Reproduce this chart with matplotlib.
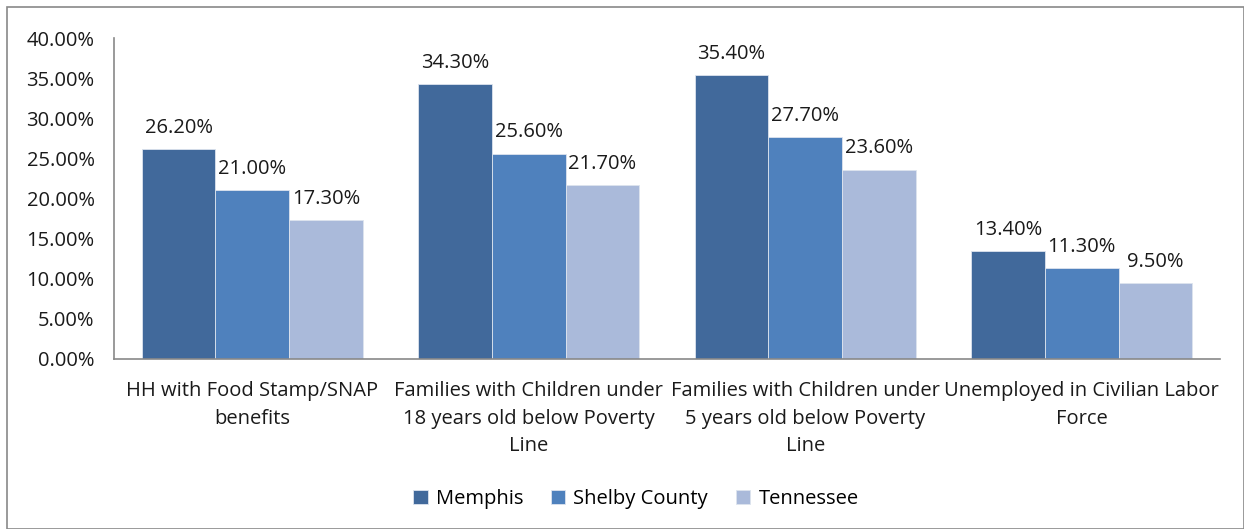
import numpy as np
import matplotlib
matplotlib.use('Agg')
import matplotlib.pyplot as plt
from matplotlib.patches import Rectangle

plt.rcParams['font.family'] = ['Open Sans', 'DejaVu Sans']

CATEGORIES = [
    'HH with Food Stamp/SNAP\nbenefits',
    'Families with Children under\n18 years old below Poverty\nLine',
    'Families with Children under\n5 years old below Poverty\nLine',
    'Unemployed in Civilian Labor\nForce',
]
SERIES = ['Memphis', 'Shelby County', 'Tennessee']
MEMPHIS = [26.2, 34.3, 35.4, 13.4]
SHELBY = [21.0, 25.6, 27.7, 11.3]
TENNESSEE = [17.3, 21.7, 23.6, 9.5]
Y_TICKS = [0, 5, 10, 15, 20, 25, 30, 35, 40]

COLORS = ['#41699B', '#4F81BD', '#AABADA']
FS = 14.5

fig = plt.figure(figsize=(12.44, 5.29), dpi=100)
fig.patch.set_facecolor('white')
# рамка вокруг всей диаграммы
fig.patches.append(Rectangle((7 / 1244, 0), 1 - 7 / 1244, 1 - 7 / 529,
                             transform=fig.transFigure, fill=False,
                             edgecolor='#898989', lw=1.2))

ax = fig.add_axes([114 / 1244, 1 - 359 / 529, (1220 - 114) / 1244, (359 - 38) / 529])

x = np.arange(len(CATEGORIES))
width = 0.8 / 3
for i, (vals, name) in enumerate(zip([MEMPHIS, SHELBY, TENNESSEE], SERIES)):
    pos = x + (i - 1) * width
    ax.bar(pos, vals, width, color=COLORS[i], edgecolor='#DDE4EE', lw=0.6, label=name)
    for p, v in zip(pos, vals):
        ax.annotate(f'{v:.2f}%', (p, v), xytext=(0, 8), textcoords='offset points',
                    ha='center', va='bottom', fontsize=FS, color='#1a1a1a')

ax.set_xlim(-0.5, len(CATEGORIES) - 0.5)
ax.set_ylim(0, 40)
ax.set_yticks(Y_TICKS)
ax.set_yticklabels([f'{t:.2f}%' for t in Y_TICKS], fontsize=FS)
ax.set_xticks(x)
ax.set_xticklabels(CATEGORIES, fontsize=FS, linespacing=1.5)
ax.tick_params(length=0, pad=14, colors='#1a1a1a')
ax.tick_params(axis='x', pad=16)
for s in ['top', 'right']:
    ax.spines[s].set_visible(False)
for s in ['left', 'bottom']:
    ax.spines[s].set_color('#898989')
    ax.spines[s].set_linewidth(1.2)

ax.legend(loc='center', bbox_to_anchor=(636 / 1244, 1 - 499 / 529),
          bbox_transform=fig.transFigure, ncol=3, frameon=False, fontsize=FS,
          handlelength=0.7, handleheight=0.7, handletextpad=0.4, columnspacing=1.4)

plt.savefig('out.png', dpi=100, facecolor='white')
plt.close()
